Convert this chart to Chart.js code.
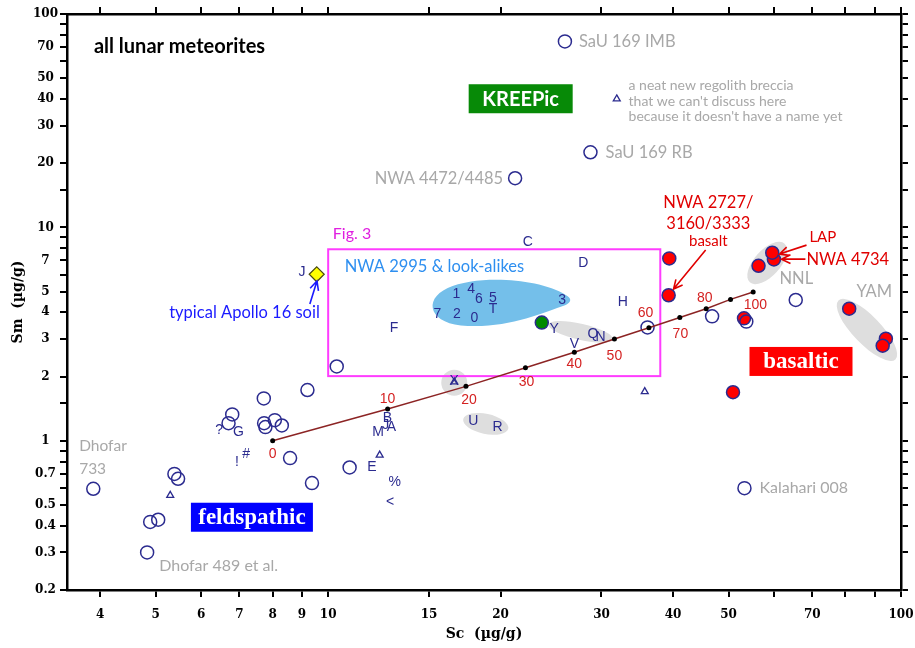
<!DOCTYPE html>
<html>
<head>
<meta charset="utf-8">
<title>Sm vs Sc — lunar meteorites</title>
<script src="https://cdn.jsdelivr.net/npm/chart.js@4.4.1/dist/chart.umd.min.js"></script>
<style>
    html, body { margin: 0; padding: 0; background: #fff; }
    #wrap { width: 915px; height: 648px; position: relative; }
</style>
</head>
<body>
<div id="wrap"><canvas id="smScChart"></canvas></div>
<script>
/* ═══════════════════════════════════════════════════
   Sm vs Sc — all lunar meteorites (log-log)
   ═══════════════════════════════════════════════════ */

// ─────────────────────────────────────────
//  DATE
// ─────────────────────────────────────────
const xTicks = [4, 5, 6, 7, 8, 9, 10, 15, 20, 30, 40, 50, 60, 70, 80, 90, 100];
const xTickLabels = [4, 5, 6, 7, 8, 9, 10, 15, 20, 30, 40, 50, 70, 100];
const yTicks = [0.2, 0.3, 0.4, 0.5, 0.6, 0.7, 0.8, 0.9, 1, 1.5, 2, 3, 4, 5, 6, 7, 8, 9, 10, 15, 20, 30, 40, 50, 60, 70, 80, 90, 100];
const yTickLabels = [0.2, 0.3, 0.4, 0.5, 0.7, 1, 2, 3, 4, 5, 7, 10, 20, 30, 40, 50, 70, 100];

// meteoriti (cercuri goale)
const openSc = [25.9, 28.7, 21.2, 10.35, 9.2, 7.72, 6.8, 6.7, 7.73, 7.77, 8.07, 8.3, 8.58, 9.37, 10.9, 5.39, 5.47, 3.89, 4.89, 5.05, 4.83, 53.3, 36.1, 46.8, 53.7, 65.5];
const openSm = [74.4, 22.5, 17.0, 2.23, 1.73, 1.58, 1.33, 1.21, 1.21, 1.16, 1.25, 1.18, 0.83, 0.634, 0.75, 0.70, 0.664, 0.596, 0.417, 0.427, 0.30, 0.60, 3.40, 3.83, 3.62, 4.57];

// bazalte (cercuri rosii)
const basaltSc = [39.4, 39.3, 50.9, 53.2, 60.0, 59.6, 56.4, 81.2, 94.1, 92.9];
const basaltSm = [7.16, 4.81, 1.69, 3.75, 7.08, 7.61, 6.61, 4.16, 3.01, 2.79];

// triunghiuri
const triSc = [31.9, 35.7, 12.3, 5.3, 16.6];
const triSm = [40.0, 1.70, 0.857, 0.555, 1.89];

// punct verde (Y) si sol Apollo 16 (romb galben)
const greenSc = [23.6];
const greenSm = [3.58];
const soilSc = [9.55];
const soilSm = [6.03];

// linia de amestec 0..100 %
const mixSc = [8.0, 12.7, 17.4, 22.1, 26.9, 31.6, 36.3, 41.1, 45.7, 50.4, 55.2];
const mixSm = [1.0, 1.41, 1.80, 2.20, 2.60, 3.00, 3.39, 3.78, 4.16, 4.60, 4.98];
const mixPct = ['0', '10', '20', '30', '40', '50', '60', '70', '80', '100'];
const mixPctSc = [8.0, 12.69, 17.62, 22.2, 26.9, 31.6, 35.8, 41.2, 45.45, 55.7];
const mixPctSm = [0.867, 1.567, 1.555, 1.875, 2.285, 2.49, 3.98, 3.17, 4.65, 4.33];

// coduri de probe (litere)
const sampleCodes = ['J', 'C', 'D', 'H', 'F', '1', '4', '6', '5', 'T', '7', '2', '0', '3', 'Y', 'V', 'Q', 'N', 'G', '?', '!', '#', 'B', 'M', 'J', 'A', 'E', '%', '<', 'U', 'R', 'X'];
const sampleSc = [9.0, 22.3, 27.9, 32.7, 13.03, 16.75, 17.76, 18.32, 19.38, 19.4, 15.51, 16.77, 18.0, 25.6, 24.8, 26.9, 29.0, 29.9, 6.97, 6.45, 6.93, 7.19, 12.69, 12.22, 12.6, 12.9, 11.92, 13.07, 12.83, 17.93, 19.75, 16.6];
const sampleSm = [6.20, 8.53, 6.83, 4.46, 3.37, 4.86, 5.13, 4.60, 4.65, 4.15, 3.92, 3.94, 3.75, 4.57, 3.33, 2.84, 3.17, 3.06, 1.094, 1.126, 0.792, 0.863, 1.277, 1.102, 1.19, 1.154, 0.753, 0.638, 0.514, 1.231, 1.159, 1.894];

// ─────────────────────────────────────────
//  ADNOTARI (pozitii in unitati de date)
// ─────────────────────────────────────────
const NAVY = '#2b2b8f';
const GRAY = '#a8a8a8';
const RED = '#e00000';

const groupEllipses = [
    { sc: 16.6, sm: 1.87, rx: 13, ry: 13, rot: 0 },
    { sc: 18.84, sm: 1.201, rx: 23, ry: 10, rot: 12 },
    { sc: 27.6, sm: 3.24, rx: 33, ry: 8, rot: 13 },
    { sc: 58.4, sm: 6.81, rx: 26, ry: 13, rot: -48 },
    { sc: 87.2, sm: 3.31, rx: 41, ry: 14, rot: 46 },
];
const nwa2995Blob = { sc: 19.77, sm: 4.43 };
const fig3Box = { sc: [10.0, 38.0], sm: [2.01, 7.9] };

const labelBoxes = [
    { text: 'KREEPic', sc: 21.68, sm: 40.08, w: 104, h: 29, bg: '#078a07', font: 'bold 20px Lato' },
    { text: 'basaltic', sc: 66.9, sm: 2.355, w: 103, h: 29, bg: '#ff0000', font: 'bold 23px "Liberation Serif"' },
    { text: 'feldspathic', sc: 7.36, sm: 0.4385, w: 122, h: 29, bg: '#0000ff', font: 'bold 23px "Liberation Serif"' },
];

const callouts = [
    { text: 'all lunar meteorites', sc: 3.90, sm: 70.5, font: 'bold 20px Lato', color: '#000', align: 'left' },
    { text: 'SaU 169 IMB', sc: 27.4, sm: 74.4, font: '16.5px Lato', color: GRAY, align: 'left' },
    { text: 'SaU 169 RB', sc: 30.5, sm: 22.5, font: '16.5px Lato', color: GRAY, align: 'left' },
    { text: 'NWA 4472/4485', sc: 20.2, sm: 17.0, font: '16.5px Lato', color: GRAY, align: 'right' },
    { text: 'a neat new regolith breccia', sc: 33.45, sm: 46.3, font: '14px Lato', color: GRAY, align: 'left' },
    { text: "that we can't discuss here", sc: 33.45, sm: 39.0, font: '14px Lato', color: GRAY, align: 'left' },
    { text: "because it doesn't have a name yet", sc: 33.45, sm: 33.0, font: '14px Lato', color: GRAY, align: 'left' },
    { text: 'NWA 2727/', sc: 46.1, sm: 12.99, font: '16.5px Lato', color: RED, align: 'center' },
    { text: '3160/3333', sc: 46.1, sm: 10.36, font: '16.5px Lato', color: RED, align: 'center' },
    { text: 'basalt', sc: 46.1, sm: 8.63, font: '15px Lato', color: RED, align: 'center' },
    { text: 'LAP', sc: 69.2, sm: 9.01, font: '15px Lato', color: RED, align: 'left' },
    { text: 'NWA 4734', sc: 68.4, sm: 7.07, font: '16.5px Lato', color: RED, align: 'left' },
    { text: 'NNL', sc: 61.36, sm: 5.73, font: '16.5px Lato', color: GRAY, align: 'left' },
    { text: 'YAM', sc: 83.6, sm: 4.98, font: '16.5px Lato', color: GRAY, align: 'left' },
    { text: 'Dhofar', sc: 3.675, sm: 0.947, font: '15.5px Lato', color: GRAY, align: 'left' },
    { text: '733', sc: 3.675, sm: 0.740, font: '15.5px Lato', color: GRAY, align: 'left' },
    { text: 'Dhofar 489 et al.', sc: 5.07, sm: 0.260, font: '16px Lato', color: GRAY, align: 'left' },
    { text: 'Kalahari 008', sc: 56.6, sm: 0.601, font: '16px Lato', color: GRAY, align: 'left' },
    { text: 'NWA 2995 & look-alikes', sc: 10.69, sm: 6.52, font: '16.5px Lato', color: '#2e8ff0', align: 'left' },
    { text: 'typical Apollo 16 soil', sc: 9.67, sm: 3.97, font: '16.5px Lato', color: '#1a1aff', align: 'right' },
    { text: 'Fig. 3', sc: 10.19, sm: 9.30, font: '16px Lato', color: '#e020e0', align: 'left' },
];

const arrows = [
    { from: [45.6, 7.83], to: [40.08, 5.14], color: RED },
    { from: [68.4, 8.26], to: [61.35, 7.50], color: RED },
    { from: [68.1, 7.10], to: [61.85, 7.10], color: RED },
    { from: [9.29, 4.38], to: [9.56, 5.61], color: '#1a1aff' },
];

// ─────────────────────────────────────────
//  HELPERI
// ─────────────────────────────────────────
function toPoints(xs, ys) {
    return xs.map((x, i) => ({ x: x, y: ys[i] }));
}

function px(chart, sc, sm) {
    return [chart.scales.x.getPixelForValue(sc), chart.scales.y.getPixelForValue(sm)];
}

function drawArrow(ctx, x0, y0, x1, y1, color) {
    const ang = Math.atan2(y1 - y0, x1 - x0);
    const head = 10;
    ctx.strokeStyle = color;
    ctx.lineWidth = 1.6;
    ctx.beginPath();
    ctx.moveTo(x0, y0);
    ctx.lineTo(x1, y1);
    ctx.moveTo(x1 - head * Math.cos(ang - 0.45), y1 - head * Math.sin(ang - 0.45));
    ctx.lineTo(x1, y1);
    ctx.lineTo(x1 - head * Math.cos(ang + 0.45), y1 - head * Math.sin(ang + 0.45));
    ctx.stroke();
}

// ─────────────────────────────────────────
//  PLUGIN — elipse, casete, texte
// ─────────────────────────────────────────
const decorPlugin = {
    id: 'decor',
    beforeDatasetsDraw(chart) {
        const ctx = chart.ctx;
        ctx.save();

        // grupuri gri
        ctx.fillStyle = '#dedede';
        groupEllipses.forEach(e => {
            const [x, y] = px(chart, e.sc, e.sm);
            ctx.beginPath();
            ctx.ellipse(x, y, e.rx, e.ry, e.rot * Math.PI / 180, 0, 2 * Math.PI);
            ctx.fill();
        });

        // NWA 2995 & look-alikes (forma de ou)
        const [bx, by] = px(chart, nwa2995Blob.sc, nwa2995Blob.sm);
        ctx.fillStyle = '#74bfea';
        ctx.beginPath();
        ctx.moveTo(bx + 68, by - 8);
        ctx.bezierCurveTo(bx + 40, by - 25, bx - 20, by - 28, bx - 50, by - 15);
        ctx.bezierCurveTo(bx - 76, by - 3, bx - 68, by + 22, bx - 30, by + 23);
        ctx.bezierCurveTo(bx + 10, by + 25, bx + 45, by + 10, bx + 68, by + 2);
        ctx.quadraticCurveTo(bx + 77, by - 3, bx + 68, by - 8);
        ctx.fill();

        // caseta Fig. 3
        const [x0, y0] = px(chart, fig3Box.sc[0], fig3Box.sm[1]);
        const [x1, y1] = px(chart, fig3Box.sc[1], fig3Box.sm[0]);
        ctx.strokeStyle = '#ff3cff';
        ctx.lineWidth = 2;
        ctx.strokeRect(x0, y0, x1 - x0, y1 - y0);

        ctx.restore();
    },
    afterDatasetsDraw(chart) {
        const ctx = chart.ctx;
        ctx.save();
        ctx.textBaseline = 'middle';

        // coduri de probe
        ctx.fillStyle = NAVY;
        ctx.font = '14px "Liberation Sans"';
        ctx.textAlign = 'center';
        sampleCodes.forEach((c, i) => {
            const [x, y] = px(chart, sampleSc[i], sampleSm[i]);
            ctx.fillText(c, x, y);
        });

        // procente pe linia de amestec
        ctx.fillStyle = '#d42222';
        ctx.font = '14px "Liberation Sans"';
        mixPct.forEach((t, i) => {
            const [x, y] = px(chart, mixPctSc[i], mixPctSm[i]);
            ctx.fillText(t, x, y);
        });

        // texte
        callouts.forEach(c => {
            const [x, y] = px(chart, c.sc, c.sm);
            ctx.font = c.font;
            ctx.fillStyle = c.color;
            ctx.textAlign = c.align;
            ctx.fillText(c.text, x, y);
        });

        // casete colorate
        labelBoxes.forEach(b => {
            const [x, y] = px(chart, b.sc, b.sm);
            ctx.fillStyle = b.bg;
            ctx.fillRect(x - b.w / 2, y - b.h / 2, b.w, b.h);
            ctx.fillStyle = '#fff';
            ctx.font = b.font;
            ctx.textAlign = 'center';
            ctx.fillText(b.text, x, y + 1);
        });

        // sageti
        arrows.forEach(a => {
            const [fx, fy] = px(chart, a.from[0], a.from[1]);
            const [tx, ty] = px(chart, a.to[0], a.to[1]);
            drawArrow(ctx, fx, fy, tx, ty, a.color);
        });

        ctx.restore();
    },
};

// ─────────────────────────────────────────
//  AXE
// ─────────────────────────────────────────
const tickFont = { family: '"DejaVu Serif"', weight: 'bold', size: 12 };
const titleFont = { family: '"DejaVu Serif"', weight: 'bold', size: 14 };
const gridOpts = { drawOnChartArea: false, drawTicks: true, tickLength: 7, color: '#000', lineWidth: 2 };
const borderOpts = { display: true, color: '#000', width: 2.5 };

function logAxis(position, ticksList, labelsList, showLabels, size) {
    const horizontal = position === 'top' || position === 'bottom';
    return {
        type: 'logarithmic',
        position: position,
        min: horizontal ? 3.5 : 0.2,
        max: 100,
        afterBuildTicks: s => { s.ticks = ticksList.map(v => ({ value: v })); },
        afterFit: s => {
            if (horizontal) s.height = size; else s.width = size;
            s.paddingLeft = 0; s.paddingRight = 0; s.paddingTop = 0; s.paddingBottom = 0;
        },
        ticks: {
            display: showLabels,
            autoSkip: false,
            maxRotation: 0,
            color: '#000',
            font: tickFont,
            padding: horizontal ? 11 : 2,
            crossAlign: horizontal ? 'near' : 'center',
            callback: v => labelsList.includes(v) ? String(v) : '',
        },
        grid: gridOpts,
        border: borderOpts,
    };
}

const xAxis = logAxis('bottom', xTicks, xTickLabels, true, 58);
xAxis.title = { display: true, text: 'Sc  (µg/g)', color: '#000', font: titleFont, padding: { top: 0, bottom: 5 } };
const yAxis = logAxis('left', yTicks, yTickLabels, true, 67);
yAxis.title = { display: true, text: 'Sm  (µg/g)', color: '#000', font: titleFont, padding: { top: 10, bottom: 0 } };

// ─────────────────────────────────────────
//  GRAFIC
// ─────────────────────────────────────────
new Chart(document.getElementById('smScChart'), {
    type: 'scatter',
    data: {
        datasets: [
            {
                label: 'mixing line',
                data: toPoints(mixSc, mixSm),
                showLine: true,
                borderColor: '#8c2424',
                borderWidth: 1.5,
                pointRadius: 2.5,
                pointBackgroundColor: '#000',
                pointBorderColor: '#000',
                pointBorderWidth: 0,
            },
            {
                label: 'meteorites',
                data: toPoints(openSc, openSm),
                pointStyle: 'circle',
                pointRadius: 6.5,
                pointBorderWidth: 1.5,
                pointBorderColor: NAVY,
                pointBackgroundColor: 'rgba(0,0,0,0)',
            },
            {
                label: 'triangles',
                data: toPoints(triSc, triSm),
                pointStyle: 'triangle',
                pointRadius: 4,
                pointBorderWidth: 1.3,
                pointBorderColor: NAVY,
                pointBackgroundColor: 'rgba(0,0,0,0)',
            },
            {
                label: 'basalts',
                data: toPoints(basaltSc, basaltSm),
                pointStyle: 'circle',
                pointRadius: 6.5,
                pointBorderWidth: 1.5,
                pointBorderColor: NAVY,
                pointBackgroundColor: '#ff0000',
            },
            {
                label: 'Y',
                data: toPoints(greenSc, greenSm),
                pointStyle: 'circle',
                pointRadius: 6.5,
                pointBorderWidth: 1.5,
                pointBorderColor: NAVY,
                pointBackgroundColor: '#008a00',
            },
            {
                label: 'Apollo 16 soil',
                data: toPoints(soilSc, soilSm),
                pointStyle: 'rectRot',
                pointRadius: 7.5,
                pointBorderWidth: 1.2,
                pointBorderColor: '#4a4a10',
                pointBackgroundColor: '#ffff00',
            },
        ],
    },
    options: {
        responsive: true,
        maintainAspectRatio: false,
        animation: false,
        layout: { padding: 0, autoPadding: false },
        plugins: {
            legend: { display: false },
            tooltip: { enabled: false },
        },
        scales: {
            x: xAxis,
            x2: logAxis('top', xTicks, xTickLabels, false, 14),
            y: yAxis,
            y2: logAxis('right', yTicks, yTickLabels, false, 14),
        },
    },
    plugins: [decorPlugin],
});
</script>
</body>
</html>
